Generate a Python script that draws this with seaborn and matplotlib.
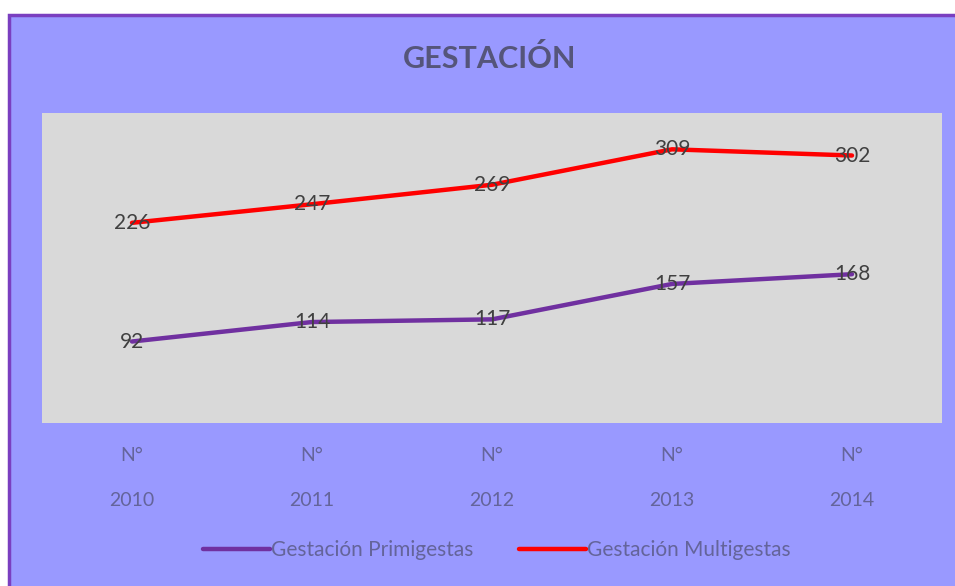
import pandas as pd
import numpy as np
import matplotlib
matplotlib.use("Agg")
import matplotlib.pyplot as plt
from matplotlib.patches import Rectangle
import seaborn as sns

# data
years = ["2010", "2011", "2012", "2013", "2014"]
primigestas = [92, 114, 117, 157, 168]
multigestas = [226, 247, 269, 309, 302]
series_names = ["Gestación Primigestas", "Gestación Multigestas"]

df = pd.DataFrame({
    "pos": list(range(len(years))) * 2,
    "valor": primigestas + multigestas,
    "serie": [series_names[0]] * len(years) + [series_names[1]] * len(years),
})

sns.set_theme(style="white")
plt.rcParams["font.family"] = ["Lato", "DejaVu Sans"]

bg = "#9999ff"
txt = "#64649a"
colors = {series_names[0]: "#7030a0", series_names[1]: "#ff0000"}

fig = plt.figure(figsize=(9.55, 5.86), dpi=100)
fig.patch.set_facecolor("white")
# purple chart area with a darker frame
fig.patches.append(Rectangle((9 / 955, -0.01), 1.0, 571 / 586 + 0.01, transform=fig.transFigure,
                             facecolor=bg, edgecolor="#7a3fc0", linewidth=2.5, zorder=-5))

ax = fig.add_axes([42 / 955, 1 - 423 / 586, (942 - 42) / 955, (423 - 113) / 586])
ax.set_zorder(2)
ax.set_facecolor("#d9d9d9")

sns.lineplot(data=df, x="pos", y="valor", hue="serie", palette=colors, linewidth=3.2, ax=ax, legend=False)

for s, vals in zip(series_names, [primigestas, multigestas]):
    for i, v in enumerate(vals):
        ax.text(i, v, str(v), ha="center", va="center", fontsize=15, color="#404040")

ax.set_xlim(-0.5, len(years) - 0.5)
ax.set_ylim(0, 350)
ax.set_yticks([])
ax.set_xticks(range(len(years)))
ax.set_xticklabels(["N°\n" + y for y in years], linespacing=3.0, color=txt, fontsize=14)
ax.tick_params(axis="x", length=0, pad=17)
ax.set_xlabel("")
ax.set_ylabel("")
for sp in ax.spines.values():
    sp.set_visible(False)

fig.text(0.513, 1 - 58 / 586, "GESTACIÓN", ha="center", va="center", fontsize=22,
         fontweight="bold", color="#55557a")

handles = [plt.Line2D([], [], color=colors[s], linewidth=3.2) for s in series_names]
leg = fig.legend(handles, series_names, loc="center", bbox_to_anchor=(0.52, 1 - 550 / 586), ncol=2,
                 frameon=False, fontsize=15, handlelength=3.2, handletextpad=0.05, columnspacing=2.2)
for t in leg.get_texts():
    t.set_color(txt)

fig.savefig("out.png", dpi=100, facecolor=fig.get_facecolor())
